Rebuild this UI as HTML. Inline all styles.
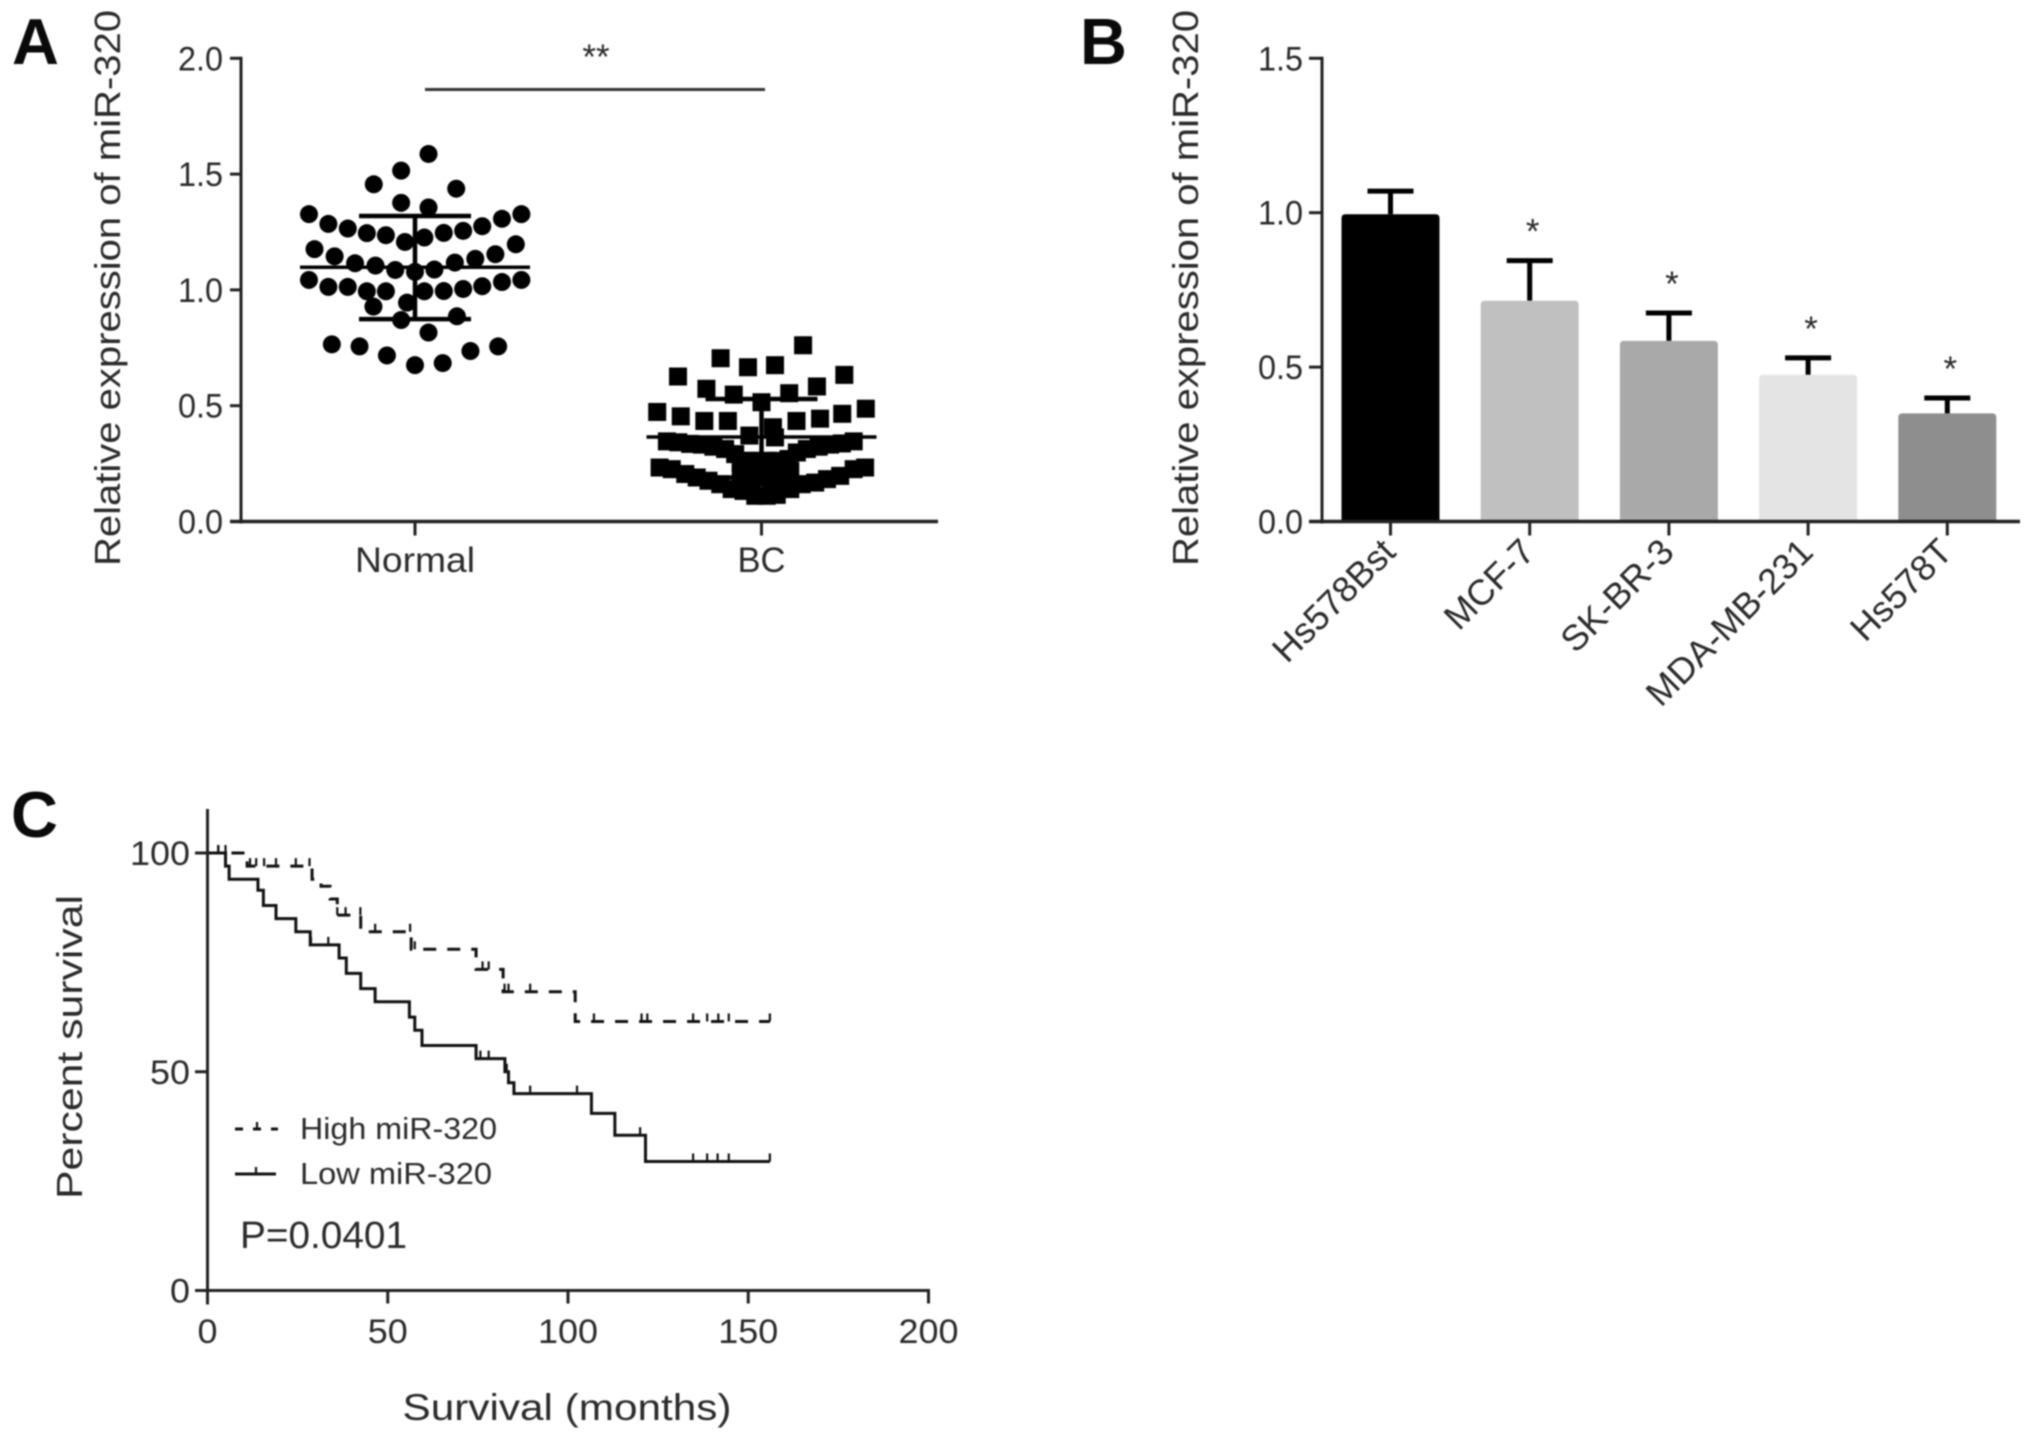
<!DOCTYPE html>
<html lang="en">
<head>
<meta charset="utf-8">
<title>miR-320 expression figure</title>
<style>
html,body{margin:0;padding:0;background:#fff;}
svg{display:block;filter:blur(0.7px);}
text{font-family:"Liberation Sans",sans-serif;fill:#2b2b2b;}
.panel{font-size:65px;fill:#0a0a0a;font-weight:bold;}
</style>
</head>
<body>
<svg id="fig" xmlns="http://www.w3.org/2000/svg" width="2031" height="1443" viewBox="0 0 2031 1443">
<rect width="2031" height="1443" fill="#fff"/>
<text class="panel" x="12" y="64">A</text>
<text class="panel" x="1080" y="64">B</text>
<text class="panel" x="11" y="837">C</text>
<g id="panelA">
<text transform="translate(120,288) rotate(-90)" text-anchor="middle" font-size="36" textLength="556" lengthAdjust="spacingAndGlyphs">Relative expression of miR-320</text>
<line x1="425" x2="765" y1="89.5" y2="89.5" stroke="#333" stroke-width="3"/>
<text x="596" y="69" text-anchor="middle" font-size="35" fill="#444">**</text>
</g>
<g id="panelB">
<text transform="translate(1198,288) rotate(-90)" text-anchor="middle" font-size="36" textLength="556" lengthAdjust="spacingAndGlyphs">Relative expression of miR-320</text>
</g>
<g id="panelC">
<text transform="translate(82,1047) rotate(-90)" text-anchor="middle" font-size="36" textLength="304" lengthAdjust="spacingAndGlyphs">Percent survival</text>
<text x="567" y="1420" text-anchor="middle" font-size="37" textLength="329" lengthAdjust="spacingAndGlyphs">Survival (months)</text>
<text x="300" y="1139" font-size="31" textLength="197" lengthAdjust="spacingAndGlyphs">High miR-320</text>
<text x="300" y="1184" font-size="31" textLength="192" lengthAdjust="spacingAndGlyphs">Low miR-320</text>
<text x="240" y="1248" font-size="38" textLength="167" lengthAdjust="spacingAndGlyphs">P=0.0401</text>
</g>
</svg>
<script>
// Panel A data
const aCategories = ['Normal', 'BC'];
const aTicks = ['0.0', '0.5', '1.0', '1.5', '2.0'];
const normalValues = [1.587,1.515,1.456,1.437,1.376,1.356,1.327,1.327,1.307,1.285,1.265,1.275,1.245,1.236,1.255,1.246,1.207,1.226,1.197,1.176,1.154,1.145,1.134,1.115,1.118,1.105,1.086,1.088,1.078,1.043,1.043,1.034,1.013,1.013,1.016,1.004,0.995,0.994,0.994,0.994,0.928,0.945,0.870,0.886,0.816,0.765,0.756,0.756,0.736,0.717,0.675,0.684];
const normalJitter = [.039,-.040,-.119,.119,-.040,.039,-.306,.307,.251,-.250,-.194,.194,-.139,-.084,.139,.083,-.029,.027,.291,-.290,.232,-.232,.174,-.173,.115,-.114,-.057,.056,0,-.306,.307,.251,-.250,-.194,.194,.139,.083,-.139,-.084,.027,-.120,-.023,-.040,.121,.039,-.240,-.160,.240,.160,-.081,0,.080];
const normalStats = {mean: 1.098, upper: 1.319, lower: 0.874};
const bcValues = [.761,.705,.666,.675,.626,.633,.573,.583,.548,.554,.515,.473,.487,.454,.465,.434,.444,.434,.434,.407,.371,.363,
 .346,.342,.335,.332,.323,.313,.291,.262,.233,.346,.337,.332,.323,.313,.298,.270,.248,.233,
 .233,.226,.205,.190,.176,.161,.140,.132,.111,.115,.140,.161,.168,.183,.197,.226,.233,.111,
 .233,.233,.219,.190,.190,.197,.248,.262,.262,.262,.255,.190,.176,.190,.219,.205,.205,.150,.150];
const bcJitter = [.120,-.118,-.039,.039,-.241,.239,-.159,.160,-.080,.080,0,-.301,.301,-.233,.233,-.165,.169,-.097,.101,.033,-.035,.039,
 -.273,-.240,-.206,-.172,-.139,-.105,-.076,-.042,-.023,.266,.232,.198,.165,.131,.102,.078,.054,.015,
 -.294,-.259,-.220,-.187,-.153,-.119,-.086,-.052,-.018,.044,.083,.116,.155,.189,.227,.266,.299,.015,
 0,.044,-.042,-.023,.015,.054,-.047,-.023,.015,.044,-.060,0,-.042,.044,.083,-.060,.070,-.030,.030];
const bcStats = {mean: 0.365, upper: 0.529, lower: 0.190};

// Panel B data
const bCategories = ['Hs578Bst', 'MCF-7', 'SK-BR-3', 'MDA-MB-231', 'Hs578T'];
const bTicks = ['0.0', '0.5', '1.0', '1.5'];
const bValues = [0.995, 0.715, 0.585, 0.475, 0.35];
const bErrorTops = [1.07, 0.845, 0.675, 0.53, 0.40];
const bColors = ['#000000', '#c0c0c0', '#a9a9a9', '#e4e4e4', '#8e8e8e'];
const bStars = ['', '*', '*', '*', '*'];

// Panel C data
const cYTicks = ['0', '50', '100'];
const cXTicks = ['0', '50', '100', '150', '200'];
const lowTimes = [0,5,6,14,15.5,19,24.5,28.5,36.5,38.5,42.5,46.5,56,57.5,59.5,74.5,82.5,83.5,85,106.5,113,121.5];
const lowSurv = [100,97,94,91.5,88,85,82,79,76,72.5,69,66,62.5,59.5,56,53,50,47.5,45,40.5,35.5,29.5];
const lowCensor = [3,5,28.7,33.5,75.7,78,83,83.6,89.5,102.5,120,134.7,138.6,141.5,144.6,156];
const highTimes = [0,11,29,31.5,34,36,42.5,56.5,74.5,82,102];
const highSurv = [100,97,94,92.4,89.5,85.8,82,78,73.4,68.3,61.5];
const highCensor = [3,5,11.8,13.5,15.7,19,24.5,28.3,36,38.3,42.4,46.5,56.2,57.5,76.3,78,82.4,83.5,89.5,102,107.2,120.4,122,134.7,138.6,141.7,144.6,156];
const followUpEnd = 156;

const NS = 'http://www.w3.org/2000/svg';
function mk(tag, parent, attrs) {
  const e = document.createElementNS(NS, tag);
  for (const k in attrs) e.setAttribute(k, attrs[k]);
  parent.appendChild(e);
  return e;
}
const axisColor = '#222';

/* ---------- Panel A ---------- */
const gA = document.getElementById('panelA');
const ya = v => 521.5 - v * 231.6;
const xa = c => 415 + c * 346.5;

let e = mk('line', gA, {x1:241, x2:241, y1:ya(2)-1.5, y2:ya(0)+2, stroke:axisColor, 'stroke-width':3});


e = mk('line', gA, {x1:230, x2:938, y1:ya(0), y2:ya(0), stroke:axisColor, 'stroke-width':3.5});



aTicks.forEach(t => {
  const y = ya(parseFloat(t));
  const l = mk('line', gA, {x1:230, x2:241, y1:y, y2:y, stroke:axisColor, 'stroke-width':3});
  
  
  const s = mk('text', gA, {x:223, y:y+12, 'text-anchor':'end', 'font-size':34, textLength:45, lengthAdjust:'spacingAndGlyphs'});
  s.textContent = t;
  
  
});
aCategories.forEach((c, i) => {
  const x = xa(i);
  const l = mk('line', gA, {x1:x, x2:x, y1:ya(0), y2:ya(0)+14, stroke:axisColor, 'stroke-width':3});
  
  
  const s = mk('text', gA, {x:x, y:572, 'text-anchor':'middle', 'font-size':35, textLength: c.length > 2 ? 120 : 48, lengthAdjust:'spacingAndGlyphs'});
  s.textContent = c;
  
  
});
normalValues.forEach((v, i) => {
  const p = mk('circle', gA, {cx:xa(normalJitter[i]), cy:ya(v), r:9, fill:'#000'});
  
  
});
bcValues.forEach((v, i) => {
  const p = mk('rect', gA, {x:xa(1 + bcJitter[i])-9, y:ya(v)-9, width:18, height:18, fill:'#000'});
  
  
});
function statBars(stats, c, name) {
  const cx = xa(c);
  const m = mk('line', gA, {x1:cx-115, x2:cx+115, y1:ya(stats.mean), y2:ya(stats.mean), stroke:'#000', 'stroke-width':3.5});
  
  
  const v = mk('line', gA, {x1:cx, x2:cx, y1:ya(stats.upper), y2:ya(stats.lower), stroke:'#000', 'stroke-width':4.5});
  
  
  [stats.upper, stats.lower].forEach(b => {
    const k = mk('line', gA, {x1:cx-56, x2:cx+56, y1:ya(b), y2:ya(b), stroke:'#000', 'stroke-width':4.5});
    
    
  });
}
statBars(normalStats, 0, 'normal');
statBars(bcStats, 1, 'bc');

/* ---------- Panel B ---------- */
const gB = document.getElementById('panelB');
const yb = v => 521.5 - v * 308.8;
const xb = i => 1390.5 + i * 139.2;

bValues.forEach((v, i) => {
  const cx = xb(i);
  const top = yb(bErrorTops[i]);
  const eb = mk('line', gB, {x1:cx, x2:cx, y1:top, y2:yb(v), stroke:'#000', 'stroke-width':5});
  
  
  const cap = mk('line', gB, {x1:cx-23, x2:cx+23, y1:top, y2:top, stroke:'#000', 'stroke-width':5});
  
  
  const y = yb(v);
  const path = 'M' + (cx-49) + ' ' + yb(0) + 'V' + (y+4) + 'Q' + (cx-49) + ' ' + y + ' ' + (cx-45) + ' ' + y + 'H' + (cx+45) + 'Q' + (cx+49) + ' ' + y + ' ' + (cx+49) + ' ' + (y+4) + 'V' + yb(0) + 'Z';
  const b = mk('path', gB, {d:path, fill:bColors[i]});
  
  
  if (bStars[i]) {
    const s = mk('text', gB, {x:cx+3, y:top-17, 'text-anchor':'middle', 'font-size':35, fill:'#444'});
    s.textContent = bStars[i];
    
    
  }
  const tick = mk('line', gB, {x1:cx, x2:cx, y1:yb(0), y2:yb(0)+14, stroke:axisColor, 'stroke-width':3});
  
  
  const lab = mk('text', gB, {transform:'translate(' + (cx+7) + ',554) rotate(-45)', 'text-anchor':'end', 'font-size':36});
  lab.textContent = bCategories[i];
  
  
});
e = mk('line', gB, {x1:1322, x2:1322, y1:yb(1.5)-1.5, y2:yb(0)+2, stroke:axisColor, 'stroke-width':3});


e = mk('line', gB, {x1:1309, x2:2020, y1:yb(0), y2:yb(0), stroke:axisColor, 'stroke-width':3.5});


bTicks.forEach(t => {
  const y = yb(parseFloat(t));
  const l = mk('line', gB, {x1:1309, x2:1322, y1:y, y2:y, stroke:axisColor, 'stroke-width':3});
  
  
  const s = mk('text', gB, {x:1303, y:y+12, 'text-anchor':'end', 'font-size':34, textLength:45, lengthAdjust:'spacingAndGlyphs'});
  s.textContent = t;
  
  
});

/* ---------- Panel C ---------- */
const gC = document.getElementById('panelC');
const xc = m => 207.5 + m * 3.605;
const yc = p => 1290.5 - p * 4.375;

function stepPath(times, surv) {
  let d = 'M' + xc(times[0]) + ' ' + yc(surv[0]);
  for (let i = 1; i < times.length; i++) {
    d += 'H' + xc(times[i]) + 'V' + yc(surv[i]);
  }
  return d + 'H' + xc(followUpEnd);
}
function survAt(m, times, surv) {
  let s = surv[0];
  for (let i = 0; i < times.length; i++) if (times[i] <= m) s = surv[i];
  return s;
}

e = mk('path', gC, {d:stepPath(highTimes, highSurv), fill:'none', stroke:'#111', 'stroke-width':3, 'stroke-dasharray':'13 11'});


e = mk('path', gC, {d:stepPath(lowTimes, lowSurv), fill:'none', stroke:'#111', 'stroke-width':3});



highCensor.forEach(m => {
  const y = yc(survAt(m, highTimes, highSurv));
  const t = mk('line', gC, {x1:xc(m), x2:xc(m), y1:y, y2:y-8, stroke:'#111', 'stroke-width':2.2});
  
  
});
lowCensor.forEach(m => {
  const y = yc(survAt(m, lowTimes, lowSurv));
  const t = mk('line', gC, {x1:xc(m), x2:xc(m), y1:y, y2:y-8, stroke:'#111', 'stroke-width':2.2});
  
  
});

e = mk('line', gC, {x1:xc(0), x2:xc(0), y1:809, y2:yc(0)+14, stroke:axisColor, 'stroke-width':3});


e = mk('line', gC, {x1:195, x2:xc(200)+1.5, y1:yc(0), y2:yc(0), stroke:axisColor, 'stroke-width':3});


cYTicks.forEach(t => {
  const y = yc(parseFloat(t));
  const l = mk('line', gC, {x1:195, x2:207, y1:y, y2:y, stroke:axisColor, 'stroke-width':3});
  
  
  const s = mk('text', gC, {x:190, y:y+12, 'text-anchor':'end', 'font-size':34, textLength:t.length * 20, lengthAdjust:'spacingAndGlyphs'});
  s.textContent = t;
  
  
});
cXTicks.forEach(t => {
  const x = xc(parseFloat(t));
  const l = mk('line', gC, {x1:x, x2:x, y1:yc(0), y2:yc(0)+13, stroke:axisColor, 'stroke-width':3});
  
  
  const s = mk('text', gC, {x:x, y:1343, 'text-anchor':'middle', 'font-size':34, textLength:t.length * 20, lengthAdjust:'spacingAndGlyphs'});
  s.textContent = t;
  
  
});

e = mk('line', gC, {x1:235, x2:278, y1:1129, y2:1129, stroke:'#111', 'stroke-width':3, 'stroke-dasharray':'8 10'});


e = mk('line', gC, {x1:257, x2:257, y1:1129, y2:1122, stroke:'#111', 'stroke-width':2.2});


e = mk('line', gC, {x1:235, x2:276, y1:1174, y2:1174, stroke:'#111', 'stroke-width':3});


e = mk('line', gC, {x1:256, x2:256, y1:1174, y2:1167, stroke:'#111', 'stroke-width':2.2});


</script>
</body>
</html>
